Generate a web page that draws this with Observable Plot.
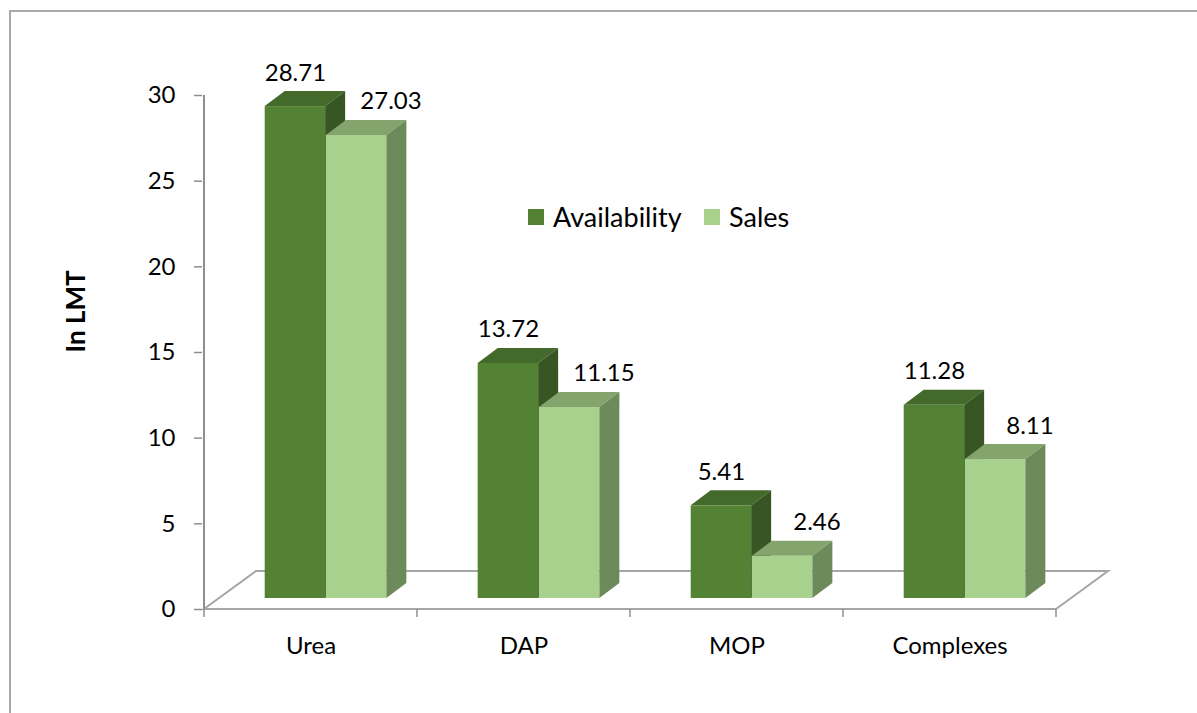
<!DOCTYPE html>
<html>
<head>
<meta charset="utf-8">
<script src="https://cdn.jsdelivr.net/npm/d3@7"></script>
<script src="https://cdn.jsdelivr.net/npm/@observablehq/plot@0.6"></script>
<style>
  body { margin: 0; background: #fff; font-family: Lato, "Open Sans", sans-serif; }
  #wrap { position: relative; width: 1197px; height: 713px; overflow: hidden; background: #fff; }
  #wrap svg { position: absolute; left: 0; top: 0; }
  #border { position: absolute; left: 9px; top: 10px; width: 1400px; height: 900px;
            border-left: 2px solid #a9a9a9; border-top: 2px solid #a9a9a9; pointer-events: none; }
  .item { position: absolute; top: 202px; height: 30px; line-height: 30px; display: flex; align-items: center;
          font-size: 27px; color: #000; white-space: nowrap; }
  .sw { width: 16px; height: 16px; display: inline-block; margin-right: 9px; }
</style>
</head>
<body>
<div id="wrap">
  <div id="border"></div>
</div>
<script>
// ---- data ----
const categories = ["Urea", "DAP", "MOP", "Complexes"];
const availability = [28.71, 13.72, 5.41, 11.28];
const sales = [27.03, 11.15, 2.46, 8.11];
const seriesNames = ["Availability", "Sales"];
const yTicks = [0, 5, 10, 15, 20, 25, 30];
const yLabel = "In LMT";

// ---- styles ----
const palette = {
  Availability: { front: "#548235", top: "#436a2b", side: "#375623" },
  Sales:        { front: "#a9d18e", top: "#84a46e", side: "#6d8a5b" }
};
const FRONT = { dx: 15, dy: -11 };   // bars sit slightly behind the floor's front edge
const DEPTH = { dx: 20, dy: -15 };   // bar depth
const FLOOR = { dx: 52, dy: -38 };   // floor depth
const FONT = 24;

const availData = categories.map((c, i) => ({ category: c, value: availability[i], series: seriesNames[0] }));
const salesData = categories.map((c, i) => ({ category: c, value: sales[i], series: seriesNames[1] }));

function extrude(top, side) {
  return (index, scales, values, dims, ctx, next) => {
    const g = next(index, scales, values, dims, ctx);
    const sel = d3.select(g);
    const rects = sel.selectAll("rect").nodes();
    for (const node of rects) {
      const x = +node.getAttribute("x"), y = +node.getAttribute("y");
      const w = +node.getAttribute("width"), h = +node.getAttribute("height");
      const DX = DEPTH.dx, DY = DEPTH.dy;
      sel.append("polygon")
        .attr("points", [[x, y], [x + DX, y + DY], [x + w + DX, y + DY], [x + w, y]].join(" "))
        .attr("fill", top);
      sel.append("polygon")
        .attr("points", [[x + w, y], [x + w + DX, y + DY], [x + w + DX, y + h + DY], [x + w, y + h]].join(" "))
        .attr("fill", side);
    }
    return g;
  };
}

function floorMark(index, scales, values, dims) {
  const x = scales.x, y = scales.y;
  const bw = typeof x.bandwidth === "function" ? x.bandwidth() : scales.scales.x.bandwidth;
  const bounds = categories.map(c => x(c));
  const x0 = bounds[0];
  const x1 = bounds[bounds.length - 1] + bw;
  bounds.push(x1);
  const y0 = y(0), yTop = y(d3.max(yTicks));
  const g = d3.create("svg:g").attr("fill", "none");
  g.append("polygon")
    .attr("points", [[x0, y0], [x1, y0], [x1 + FLOOR.dx, y0 + FLOOR.dy], [x0 + FLOOR.dx, y0 + FLOOR.dy]].join(" "))
    .attr("fill", "none").attr("stroke", "#a6a6a6").attr("stroke-width", 2);
  g.append("line").attr("x1", x0).attr("x2", x0).attr("y1", y0).attr("y2", yTop)
    .attr("stroke", "#8f8f8f").attr("stroke-width", 2);
  for (const b of bounds) {
    g.append("line").attr("x1", b).attr("x2", b).attr("y1", y0).attr("y2", y0 + 8)
      .attr("stroke", "#8f8f8f").attr("stroke-width", 1.5);
  }
  return g.node();
}

const chart = Plot.plot({
  width: 1197,
  height: 713,
  marginLeft: 202,
  marginRight: 140,
  marginTop: 95,
  marginBottom: 104,
  style: { fontFamily: "Lato, 'Open Sans', sans-serif", fontSize: FONT + "px", color: "#000", background: "transparent" },
  x: { type: "band", domain: categories, padding: 0, axis: null },
  y: { domain: [0, 30], axis: null },
  marks: [
    floorMark,
    Plot.axisY({ ticks: yTicks, tickSize: 8, tickPadding: 19, stroke: "#8f8f8f", strokeWidth: 1.5, fontSize: FONT, label: null }),
    Plot.axisX({ tickSize: 0, tickPadding: 27, fontSize: FONT, label: null }),
    Plot.text([yLabel], { frameAnchor: "left", dx: -126, rotate: -90, fontWeight: "bold", fontSize: 26 }),
    Plot.barY(availData, {
      x: "category", y: "value", fill: palette.Availability.front,
      insetLeft: 45.7, insetRight: 106.85, dx: FRONT.dx, dy: FRONT.dy,
      render: extrude(palette.Availability.top, palette.Availability.side)
    }),
    Plot.barY(salesData, {
      x: "category", y: "value", fill: palette.Sales.front,
      insetLeft: 106.9, insetRight: 45.65, dx: FRONT.dx, dy: FRONT.dy,
      render: extrude(palette.Sales.top, palette.Sales.side)
    }),
    Plot.text(availData, { x: "category", y: "value", text: d => d.value.toFixed(2), dx: -15.6, dy: -37, lineAnchor: "bottom", fontSize: FONT }),
    Plot.text(salesData, { x: "category", y: "value", text: d => d.value.toFixed(2), dx: 80, dy: -37, lineAnchor: "bottom", fontSize: FONT })
  ]
});

const wrap = document.getElementById("wrap");
wrap.insertBefore(chart, wrap.firstChild);

// legend
const legendPos = { Availability: 528, Sales: 704 };
for (const s of seriesNames) {
  const item = document.createElement("div");
  item.className = "item";
  item.style.left = legendPos[s] + "px";
  const sw = document.createElement("span");
  sw.className = "sw";
  sw.style.background = palette[s].front;
  item.appendChild(sw);
  item.appendChild(document.createTextNode(s));
  wrap.appendChild(item);
}
</script>
</body>
</html>
